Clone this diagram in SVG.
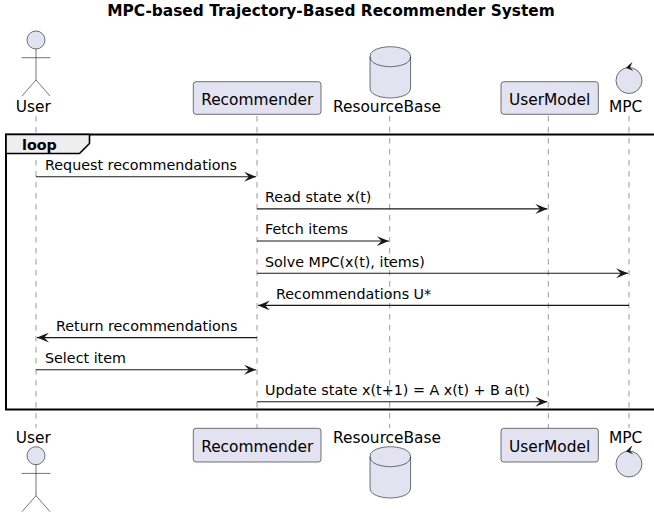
<svg xmlns="http://www.w3.org/2000/svg" width="654" height="514" viewBox="0 0 654 514">
<defs>
<style>
text{font-family:"DejaVu Sans","Liberation Sans",sans-serif;fill:#000}
.title{font-size:15.4px;font-weight:bold}
.pl{font-size:15.4px}
.msg{font-size:14.3px}
.loop{font-size:14.3px;font-weight:bold}
.box{fill:#E2E2F0;stroke:#181818;stroke-width:0.6}
.life{stroke:#555555;stroke-width:0.6;stroke-dasharray:5.5,5.5;fill:none}
.actor{fill:none;stroke:#181818;stroke-width:0.6}
.arrow{stroke:#181818;stroke-width:1.1;fill:none}
</style>
<marker id="ah" viewBox="0 0 12 10" refX="12" refY="5" markerWidth="12" markerHeight="10" markerUnits="userSpaceOnUse" orient="auto">
<path d="M0,0 L12,5 L0,10 L4.8,5 Z" fill="#181818"/>
</marker>
</defs>
<rect width="654" height="514" fill="#fff"/>
<text class="title" x="331" y="16" text-anchor="middle">MPC-based Trajectory-Based Recommender System</text>

<g id="lifelines">
<line class="life" x1="36" y1="116" x2="36" y2="428"/>
<line class="life" x1="257" y1="116" x2="257" y2="428"/>
<line class="life" x1="389.7" y1="116" x2="389.7" y2="428"/>
<line class="life" x1="548.3" y1="116" x2="548.3" y2="428"/>
<line class="life" x1="629" y1="116" x2="629" y2="428"/>
</g>

<g id="loop">
<rect x="6" y="134.5" width="660" height="275" fill="none" stroke="#000" stroke-width="2"/>
<path d="M6,134.5 L89.5,134.5 L89.5,143.5 L79.5,153.5 L6,153.5 Z" fill="#EEEEEE" stroke="#000" stroke-width="1.6"/>
<text class="loop" x="22" y="149.5">loop</text>
</g>

<g id="User">
<circle class="box" cx="36" cy="40" r="9"/>
<path class="actor" d="M36,49 L36,80 M21.5,57.7 L50.5,57.7 M22,96 L36,80 L50,96"/>
<text class="pl" x="15.7" y="111.7">User</text>
<text class="pl" x="15.7" y="443.3">User</text>
<circle class="box" cx="36" cy="455.7" r="9"/>
<path class="actor" d="M36,464.7 L36,495.7 M21.5,473.4 L50.5,473.4 M22,511.7 L36,495.7 L50,511.7"/>
</g>

<g id="Recommender">
<rect class="box" x="193.3" y="81.7" width="127.7" height="32.6" rx="2.7"/>
<text class="pl" x="257.2" y="105" text-anchor="middle">Recommender</text>
<rect class="box" x="193.3" y="428.3" width="127.7" height="33.7" rx="2.7"/>
<text class="pl" x="257.2" y="452.3" text-anchor="middle">Recommender</text>
</g>

<g id="ResourceBase">
<path class="box" d="M370,56.7 C370,46.7 390.3,46.7 390.3,46.7 C390.3,46.7 410.6,46.7 410.6,56.7 L410.6,88 C410.6,98 390.3,98 390.3,98 C390.3,98 370,98 370,88 Z"/>
<path class="actor" d="M370,56.7 C370,66.7 390.3,66.7 390.3,66.7 C390.3,66.7 410.6,66.7 410.6,56.7"/>
<text class="pl" x="387" y="111.7" text-anchor="middle">ResourceBase</text>
<text class="pl" x="387" y="443.3" text-anchor="middle">ResourceBase</text>
<path class="box" d="M370,456.7 C370,446.7 390.3,446.7 390.3,446.7 C390.3,446.7 410.6,446.7 410.6,456.7 L410.6,488 C410.6,498 390.3,498 390.3,498 C390.3,498 370,498 370,488 Z"/>
<path class="actor" d="M370,456.7 C370,466.7 390.3,466.7 390.3,466.7 C390.3,466.7 410.6,466.7 410.6,456.7"/>
</g>

<g id="UserModel">
<rect class="box" x="501" y="81.7" width="97.3" height="32.6" rx="2.7"/>
<text class="pl" x="549.6" y="105" text-anchor="middle">UserModel</text>
<rect class="box" x="501" y="428.3" width="97.3" height="33.7" rx="2.7"/>
<text class="pl" x="549.6" y="452.3" text-anchor="middle">UserModel</text>
</g>

<g id="MPC">
<circle class="box" cx="629" cy="80.5" r="13"/>
<path d="M632.5,61.7 L626,67.8 L633.5,71 L630,67.5 Z" fill="#181818"/>
<text class="pl" x="609" y="111.7">MPC</text>
<text class="pl" x="609" y="443.3">MPC</text>
<circle class="box" cx="629" cy="464" r="13"/>
<path d="M632.5,445.2 L626,451.3 L633.5,454.5 L630,451 Z" fill="#181818"/>
</g>

<g id="connectors">
<line class="arrow" x1="36" y1="176.7" x2="256" y2="176.7" marker-end="url(#ah)"/>
<text class="msg" x="45" y="170">Request recommendations</text>
<line class="arrow" x1="257" y1="208.9" x2="547.3" y2="208.9" marker-end="url(#ah)"/>
<text class="msg" x="265" y="202.2">Read state x(t)</text>
<line class="arrow" x1="257" y1="241" x2="388.7" y2="241" marker-end="url(#ah)"/>
<text class="msg" x="265" y="234.3">Fetch items</text>
<line class="arrow" x1="257" y1="273.2" x2="628" y2="273.2" marker-end="url(#ah)"/>
<text class="msg" x="265" y="266.5">Solve MPC(x(t), items)</text>
<line class="arrow" x1="629" y1="305.4" x2="258" y2="305.4" marker-end="url(#ah)"/>
<text class="msg" x="276" y="298.7">Recommendations U*</text>
<line class="arrow" x1="257" y1="337.6" x2="37" y2="337.6" marker-end="url(#ah)"/>
<text class="msg" x="56" y="330.9">Return recommendations</text>
<line class="arrow" x1="36" y1="369.7" x2="256" y2="369.7" marker-end="url(#ah)"/>
<text class="msg" x="45" y="363">Select item</text>
<line class="arrow" x1="257" y1="401.8" x2="547.3" y2="401.8" marker-end="url(#ah)"/>
<text class="msg" x="265" y="395.1">Update state x(t+1) = A x(t) + B a(t)</text>
</g>
</svg>
